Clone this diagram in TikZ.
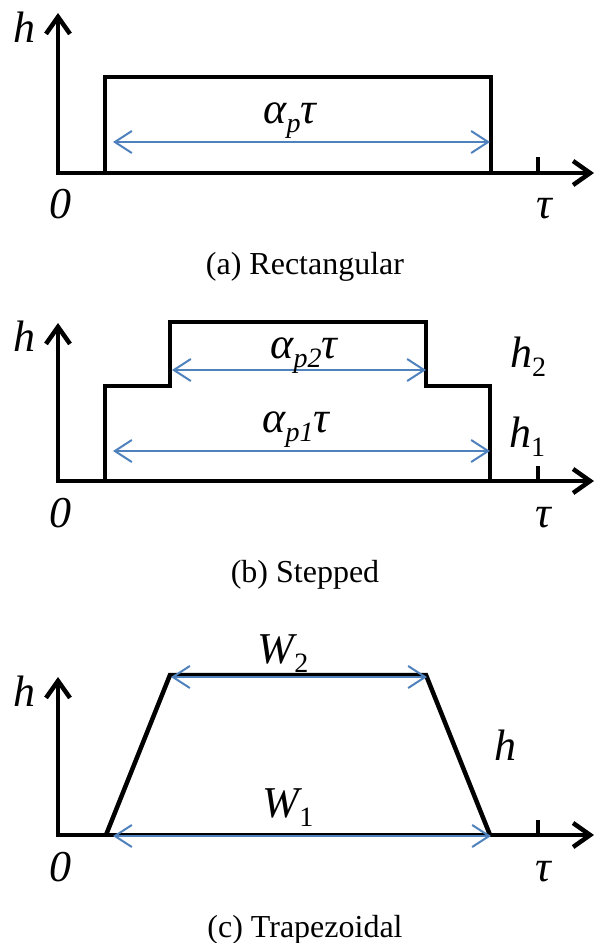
\documentclass[tikz,border=0pt]{standalone}
\usepackage{fontspec}
\setmainfont{Liberation Serif}
\usetikzlibrary{arrows.meta}
\definecolor{dimblue}{RGB}{79,129,189}
\newcommand\lsub[1]{\raisebox{-9pt}{\fontsize{28}{30}\selectfont #1}}
\begin{document}
\begin{tikzpicture}[x=1pt,y=-1pt,
  shapeline/.style={line width=4.5pt, line join=miter, line cap=butt},
  axisline/.style={line width=4.5pt, line join=miter,
    arrows={Straight Barb[length=17pt,width=24pt]-Straight Barb[length=17pt,width=24pt]}},
  tickline/.style={line width=4.5pt},
  dimline/.style={draw=dimblue, line width=2pt,
    arrows={Straight Barb[length=17pt,width=22pt]-Straight Barb[length=17pt,width=22pt]}},
  lab/.style={inner sep=0pt, anchor=base, font=\fontsize{44}{48}\selectfont\itshape},
  captext/.style={inner sep=0pt, anchor=base, font=\fontsize{32}{36}\selectfont},
]
\useasboundingbox (0,0) rectangle (595,943);

% ---------------- (a) Rectangular ----------------
\coordinate (ao) at (58,173);
\coordinate (ay) at (58,13);
\coordinate (ax) at (594,173);
\coordinate (a1) at (105,173);
\coordinate (a2) at (105,77);
\coordinate (a3) at (491,77);
\coordinate (a4) at (491,173);
\coordinate (at1) at (538,157);
\coordinate (at2) at (538,173);
\coordinate (ad1) at (113,142);
\coordinate (ad2) at (490,142);
\draw[axisline] (ay) -- (ao) -- (ax);
\draw[shapeline] (a1) -- (a2) -- (a3) -- (a4);
\draw[tickline] (at1) -- (at2);
\draw[dimline] (ad1) -- (ad2);
\node[lab] (ah) at (24,42) {h};
\node[lab] (a0) at (60,218) {0};
\node[lab] (atau) at (544,218) {τ};
\node[lab] (aw) at (290,123) {α\lsub{p}τ};
\node[captext] (acap) at (305,274) {(a) Rectangular};

% ---------------- (b) Stepped ----------------
\coordinate (bo) at (58,481);
\coordinate (by) at (58,323);
\coordinate (bx) at (594,481);
\coordinate (b1) at (105,481);
\coordinate (b2) at (105,386);
\coordinate (b3) at (170,386);
\coordinate (b4) at (170,322);
\coordinate (b5) at (426,322);
\coordinate (b6) at (426,386);
\coordinate (b7) at (490,386);
\coordinate (b8) at (490,481);
\coordinate (bt1) at (538,466);
\coordinate (bt2) at (538,481);
\coordinate (bd1) at (172,370);
\coordinate (bd2) at (426,370);
\coordinate (bd3) at (113,451);
\coordinate (bd4) at (490,451);
\draw[axisline] (by) -- (bo) -- (bx);
\draw[shapeline] (b1) -- (b2) -- (b3) -- (b4) -- (b5) -- (b6) -- (b7) -- (b8);
\draw[tickline] (bt1) -- (bt2);
\draw[dimline] (bd1) -- (bd2);
\draw[dimline] (bd3) -- (bd4);
\node[lab] (bh) at (24,351) {h};
\node[lab] (b0) at (60,527) {0};
\node[lab] (btau) at (543,527) {τ};
\node[lab] (bw2) at (304,358) {α\lsub{p2}τ};
\node[lab] (bw1) at (296,432) {α\lsub{p1}τ};
\node[lab] (bh2) at (528,367) {h\lsub{\upshape 2}};
\node[lab] (bh1) at (527,447) {h\lsub{\upshape 1}};
\node[captext] (bcap) at (305,582) {(b) Stepped};

% ---------------- (c) Trapezoidal ----------------
\coordinate (co) at (58,835);
\coordinate (cy) at (58,677);
\coordinate (cx) at (594,835);
\coordinate (c1) at (106,835);
\coordinate (c2) at (170,675);
\coordinate (c3) at (426,675);
\coordinate (c4) at (490,835);
\coordinate (ct1) at (538,820);
\coordinate (ct2) at (538,835);
\coordinate (cd1) at (171,677);
\coordinate (cd2) at (427,677);
\coordinate (cd3) at (113,836);
\coordinate (cd4) at (491,836);
\draw[axisline] (cy) -- (co) -- (cx);
\draw[shapeline] (c1) -- (c2) -- (c3) -- (c4);
\draw[tickline] (ct1) -- (ct2);
\draw[dimline] (cd1) -- (cd2);
\draw[dimline] (cd3) -- (cd4);
\node[lab] (ch) at (24,706) {h};
\node[lab] (chr) at (505,760) {h};
\node[lab] (c0) at (60,881) {0};
\node[lab] (ctau) at (543,881) {τ};
\node[lab] (cw2) at (283,663) {W\lsub{\upshape 2}};
\node[lab] (cw1) at (288,817) {W\lsub{\upshape 1}};
\node[captext] (ccap) at (305,937) {(c) Trapezoidal};
\end{tikzpicture}
\end{document}
